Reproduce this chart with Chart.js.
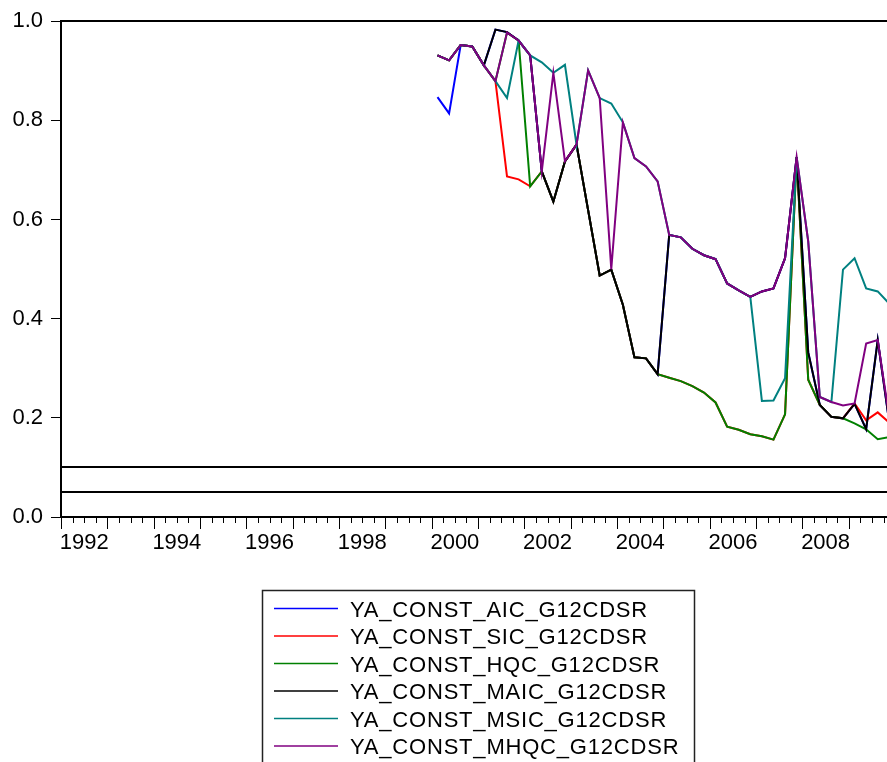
<!DOCTYPE html>
<html>
<head>
<meta charset="utf-8">
<script src="https://cdn.jsdelivr.net/npm/chart.js@4.4.1/dist/chart.umd.min.js"></script>
<style>
  html, body { margin: 0; padding: 0; background: #fff; }
  #wrap { width: 887px; height: 762px; overflow: hidden; }
</style>
</head>
<body>
<div id="wrap"><canvas id="grafico" width="887" height="762"></canvas></div>
<script>
// trimestres (pontos plotados no meio de cada trimestre)
const periods = [
  '2000Q1','2000Q2','2000Q3','2000Q4','2001Q1','2001Q2','2001Q3','2001Q4',
  '2002Q1','2002Q2','2002Q3','2002Q4','2003Q1','2003Q2','2003Q3','2003Q4',
  '2004Q1','2004Q2','2004Q3','2004Q4','2005Q1','2005Q2','2005Q3','2005Q4',
  '2006Q1','2006Q2','2006Q3','2006Q4','2007Q1','2007Q2','2007Q3','2007Q4',
  '2008Q1','2008Q2','2008Q3','2008Q4','2009Q1','2009Q2','2009Q3','2009Q4'
];

const aic = [0.847, 0.814, 0.952, 0.949, 0.911, 0.983, 0.978, 0.961, 0.931, 0.697,
  0.636, 0.717, 0.751, 0.619, 0.487, 0.499, 0.428, 0.322, 0.320, 0.288,
  0.569, 0.564, 0.541, 0.528, 0.520, 0.471, 0.457, 0.444, 0.455, 0.461,
  0.522, 0.726, 0.332, 0.226, 0.202, 0.199, 0.228, 0.177, 0.357, 0.190];
const sic = [0.931, 0.921, 0.952, 0.949, 0.911, 0.879, 0.687, 0.681, 0.667, 0.697,
  0.636, 0.717, 0.751, 0.619, 0.487, 0.499, 0.428, 0.322, 0.320, 0.288,
  0.281, 0.274, 0.264, 0.251, 0.231, 0.182, 0.176, 0.167, 0.163, 0.156,
  0.207, 0.726, 0.277, 0.226, 0.202, 0.199, 0.229, 0.195, 0.211, 0.190];
const hqc = [0.931, 0.921, 0.952, 0.949, 0.911, 0.879, 0.977, 0.961, 0.667, 0.697,
  0.636, 0.717, 0.751, 0.619, 0.487, 0.499, 0.428, 0.322, 0.320, 0.288,
  0.281, 0.274, 0.264, 0.251, 0.231, 0.182, 0.176, 0.167, 0.163, 0.156,
  0.207, 0.726, 0.277, 0.226, 0.202, 0.199, 0.189, 0.177, 0.157, 0.161];
const maic = [0.931, 0.921, 0.952, 0.949, 0.911, 0.983, 0.978, 0.961, 0.931, 0.697,
  0.636, 0.717, 0.751, 0.619, 0.487, 0.499, 0.428, 0.322, 0.320, 0.288,
  0.569, 0.564, 0.541, 0.528, 0.520, 0.471, 0.457, 0.444, 0.455, 0.461,
  0.522, 0.726, 0.332, 0.226, 0.202, 0.199, 0.228, 0.177, 0.357, 0.190];
const msic = [0.931, 0.921, 0.952, 0.949, 0.911, 0.879, 0.845, 0.961, 0.931, 0.917,
  0.896, 0.912, 0.751, 0.901, 0.845, 0.834, 0.796, 0.724, 0.707, 0.677,
  0.569, 0.564, 0.541, 0.528, 0.520, 0.471, 0.457, 0.444, 0.234, 0.235,
  0.280, 0.726, 0.556, 0.242, 0.232, 0.499, 0.522, 0.461, 0.455, 0.430];
const mhqc = [0.931, 0.921, 0.952, 0.949, 0.911, 0.879, 0.977, 0.961, 0.931, 0.697,
  0.896, 0.718, 0.751, 0.901, 0.845, 0.500, 0.796, 0.724, 0.707, 0.677,
  0.569, 0.564, 0.541, 0.528, 0.520, 0.471, 0.457, 0.444, 0.455, 0.461,
  0.522, 0.726, 0.556, 0.242, 0.232, 0.225, 0.229, 0.350, 0.357, 0.200];

const seriesNames = ['YA_CONST_AIC_G12CDSR', 'YA_CONST_SIC_G12CDSR', 'YA_CONST_HQC_G12CDSR',
  'YA_CONST_MAIC_G12CDSR', 'YA_CONST_MSIC_G12CDSR', 'YA_CONST_MHQC_G12CDSR'];
const seriesValues = [aic, sic, hqc, maic, msic, mhqc];
const seriesColors = ['#0000ff', '#ff0000', '#008000', '#000000', '#008080', '#800080'];

const xLabelYears = [1992, 1994, 1996, 1998, 2000, 2002, 2004, 2006, 2008];
const yTicks = [0, 0.2, 0.4, 0.6, 0.8, 1.0];
const refLevels = [0.1, 0.05];

const X_MIN = 1992, X_MAX = 2009.825;

function periodoParaX(p) {
  const ano = parseInt(p.slice(0, 4), 10);
  const tri = parseInt(p.slice(5), 10);
  return ano + (tri - 0.5) / 4;
}

const FONTE = "'Liberation Sans', Arial, sans-serif";
Chart.defaults.font.family = FONTE;
Chart.defaults.font.size = 22;
Chart.defaults.color = '#000';

// marcas do eixo x (anos longos, trimestres curtos), linhas de referência, moldura e legenda
const extras = {
  id: 'extras',
  afterDraw(chart) {
    const { ctx, chartArea: ca, scales: { x, y } } = chart;
    ctx.save();
    ctx.strokeStyle = '#000';

    // marcas do eixo x
    ctx.lineWidth = 1;
    x.ticks.forEach(t => {
      const px = Math.round(x.getPixelForValue(t.value)) + 0.5;
      const len = Number.isInteger(t.value) ? 12 : 6;
      ctx.beginPath();
      ctx.moveTo(px, ca.bottom);
      ctx.lineTo(px, ca.bottom + len);
      ctx.stroke();
    });

    // linha do topo (1.0) e níveis de referência
    ctx.lineWidth = 2;
    [1.0, ...refLevels].forEach(v => {
      const py = Math.round(y.getPixelForValue(v));
      ctx.beginPath();
      ctx.moveTo(ca.left, py);
      ctx.lineTo(ca.right, py);
      ctx.stroke();
    });

    // legenda com caixa
    const bx = 262.5, by = 590.5, bw = 432, bh = 200;
    ctx.lineWidth = 1.5;
    ctx.strokeStyle = '#222';
    ctx.strokeRect(bx, by, bw, bh);
    ctx.font = '22px ' + FONTE;
    if ('letterSpacing' in ctx) ctx.letterSpacing = '0.8px';
    ctx.textBaseline = 'alphabetic';
    ctx.textAlign = 'left';
    chart.data.datasets.forEach((ds, i) => {
      const cy = 608.5 + i * 27.5;
      ctx.strokeStyle = ds.borderColor;
      ctx.lineWidth = 1.5;
      ctx.beginPath();
      ctx.moveTo(274, cy);
      ctx.lineTo(338, cy);
      ctx.stroke();
      ctx.fillStyle = '#000';
      ctx.fillText(ds.label, 350, cy + 8);
    });
    ctx.restore();
  }
};

const datasets = seriesNames.map((nome, i) => ({
  label: nome,
  data: periods.map((p, k) => ({ x: periodoParaX(p), y: seriesValues[i][k] })),
  borderColor: seriesColors[i],
  borderWidth: 2,
  pointRadius: 0,
  tension: 0,
  fill: false,
  order: seriesNames.length - i // a última série fica por cima
}));

new Chart(document.getElementById('grafico'), {
  type: 'line',
  data: { datasets },
  plugins: [extras],
  options: {
    responsive: false,
    animation: false,
    layout: { padding: { left: 0, right: 0, top: 17, bottom: 200 } },
    plugins: { legend: { display: false }, tooltip: { enabled: false } },
    scales: {
      x: {
        type: 'linear',
        min: X_MIN,
        max: X_MAX,
        afterBuildTicks: (scale) => {
          const ticks = [];
          for (let ano = 1992; ano <= 2009; ano++) {
            for (let q = 0; q < 4; q++) {
              const v = ano + q / 4;
              if (v <= X_MAX) ticks.push({ value: v });
            }
          }
          scale.ticks = ticks;
        },
        afterFit: (scale) => { scale.height = 45; },
        ticks: {
          autoSkip: false,
          maxRotation: 0,
          padding: 1,
          font: { size: 22 },
          callback: (v) => xLabelYears.includes(v - 0.5) ? String(v - 0.5) : ''
        },
        grid: { display: false, drawTicks: true, tickLength: 12 },
        border: { display: true, color: '#000', width: 2 }
      },
      y: {
        min: 0,
        max: 1,
        afterBuildTicks: (scale) => { scale.ticks = yTicks.map(v => ({ value: v })); },
        afterFit: (scale) => { scale.width = 61; },
        ticks: {
          padding: 8,
          font: { size: 22 },
          callback: (v) => v.toFixed(1)
        },
        grid: { drawOnChartArea: false, drawTicks: true, tickLength: 10, color: '#000', lineWidth: 1 },
        border: { display: true, color: '#000', width: 2 }
      }
    }
  }
});
</script>
</body>
</html>
